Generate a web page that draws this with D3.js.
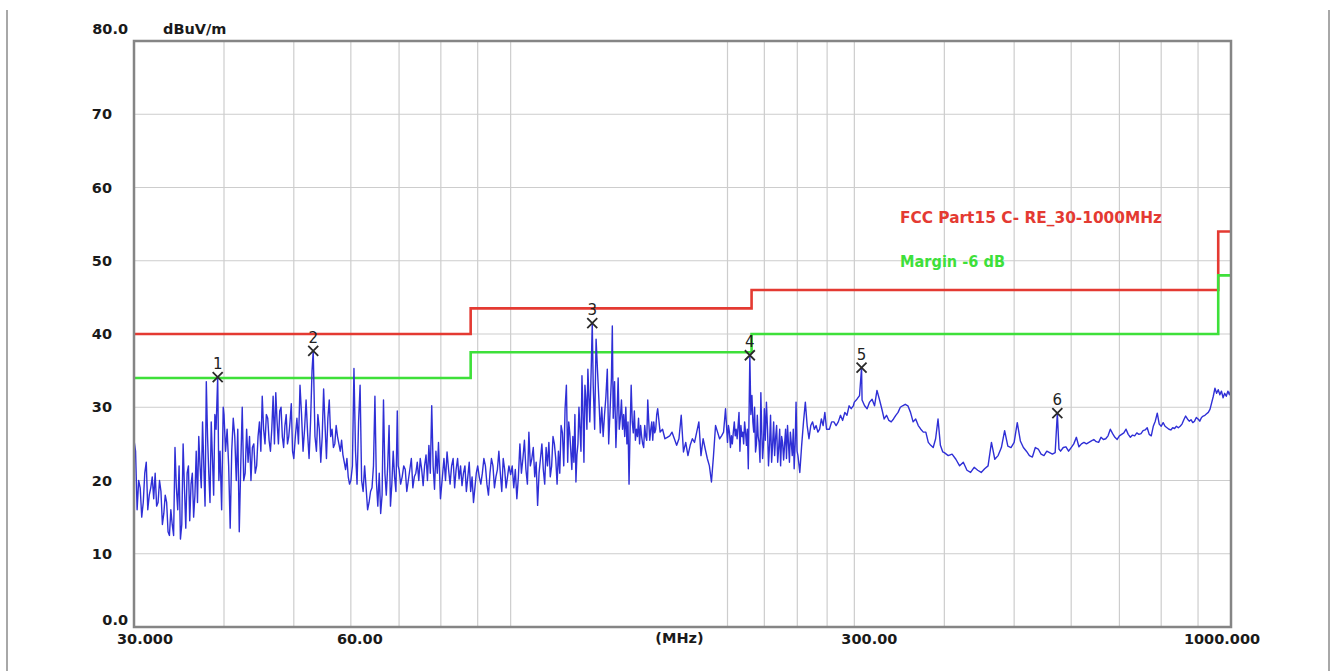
<!DOCTYPE html>
<html><head><meta charset="utf-8">
<script src="https://cdn.jsdelivr.net/npm/d3@7"></script>
<style>html,body{margin:0;padding:0;background:#fff;} svg{display:block}</style>
</head><body><svg id="chart" width="1333" height="671"></svg>
<script>
// ---- measured trace (MHz, dBuV/m) ----
const trace30to60 = [
[30.0,25.5],[30.3,16],[30.6,19],[30.9,17],[31.2,22.5],[31.5,18],[31.8,20.5],[32.1,21],[32.4,17],[32.7,18.5],[33.0,15.5],[33.3,17],[33.6,12.5],[33.9,14],[34.2,24.5],[34.5,16],[34.8,12],[35.1,25],[35.4,13.5],[35.7,22],[36.0,19.5],[36.3,15],[36.6,24],[36.9,26],[37.2,19],[37.5,22],[37.8,33.5],[38.1,21],[38.4,28],[38.7,18],[39.0,27],[39.2,34.1],[39.5,24],[39.9,30],
[40.0,29],[40.4,27],[40.8,13.5],[41.2,28.5],[41.6,20],[42.0,13],[42.4,30],[42.8,21],[43.2,22.5],[43.6,20],[44.0,25],[44.4,22],[44.8,28],[45.2,31.5],[45.6,25],[46.0,28.5],[46.4,24],[46.8,31.5],[47.2,32],[47.6,25],[48.0,30],[48.4,24.5],[48.8,29],[49.2,26],[49.6,30.5],
[50.0,23],[50.5,28.5],[51.0,33],[51.5,24],[52.0,31],[52.5,23],[53.0,35],[53.2,37.7],[53.5,26],[54.0,29],[54.5,22.5],[55.0,32.5],[55.5,23],[56.0,31],[56.5,27],[57.0,25],[57.5,26],[58.0,24],[58.5,23.5],[59.0,21.5],[59.5,20.5]
];
const trace30to60band = [
[30.15,24],[30.45,20],[30.75,15],[31.05,21],[31.35,16],[31.65,19],[31.95,17.5],[32.25,16.5],[32.55,20],[32.85,14],[33.15,18],[33.45,13],[33.75,16],[34.05,12.5],[34.35,19],[34.65,22],[34.95,14],[35.25,19],[35.55,21],[35.85,14.5],[36.15,21],[36.45,18],[36.75,17],[37.05,22],[37.35,28],[37.65,16.5],[37.95,26],[38.25,17],[38.55,23],[38.85,29],[39.35,20],[39.7,16],
[40.2,24],[40.6,22],[41.0,24],[41.4,26],[41.8,27],[42.2,22],[42.6,20],[43.0,27],[43.4,26],[43.8,24.5],[44.2,21],[44.6,26],[45.0,24],[45.4,27],[45.8,29],[46.2,25.5],[46.6,27],[47.0,25],[47.4,28],[47.8,29.5],[48.2,26],[48.6,27.5],[49.0,25],[49.4,28],[49.8,24],
[50.25,26],[50.75,25],[51.25,29],[51.75,27],[52.25,26.5],[52.75,28],[53.75,24],[54.25,27],[54.75,26],[55.25,27.5],[55.75,28.5],[56.25,26],[56.75,24.5],[57.25,27.5],[57.75,25],[58.25,25.5],[58.75,22.5],[59.25,23],[59.75,19.5]
];
const trace60to100 = [
[60.0,20],[60.6,35.3],[61.2,19.5],[61.8,33],[62.4,18.5],[63.0,19],[63.6,17],[64.2,19],[64.8,31.5],[65.4,16.5],[66.0,15.5],[66.6,31],[67.2,18],[67.8,27.5],[68.4,19.5],[69.0,20.5],[69.6,29.5],
[70.0,21.5],[70.7,20.5],[71.4,21.5],[72.1,20],[72.8,23],[73.5,20.5],[74.2,22.5],[74.9,23],[75.6,19.3],[76.3,23.5],[77.0,24.8],[77.7,30.2],[78.4,18.8],[79.1,21],[79.4,25.2],[79.9,17.5],
[80.8,23],[81.6,23.9],[82.4,19.5],[83.2,23],[84.0,21.5],[84.8,20.2],[85.6,19.3],[86.4,22],[87.2,20.5],[88.0,18.5],[88.8,17],[89.6,21],
[90.0,22],[90.9,19.5],[91.8,23],[92.7,19.5],[93.6,21],[94.5,22],[95.4,20.5],[96.3,24],[97.2,18.5],[98.1,21.5],[99.0,20.5],[99.9,21]
];
const trace60to100band = [
[60.3,22],[60.9,24],[61.5,28],[62.1,20],[62.7,22],[63.3,16],[63.9,18.5],[64.5,22],[65.1,20],[65.7,21],[66.3,18],[66.9,21],[67.5,22],[68.1,16.5],[68.7,24],[69.3,18.5],[69.8,22],
[70.35,19.5],[71.05,22],[71.75,18.5],[72.45,21.5],[73.15,19],[73.85,21],[74.55,20],[75.25,21.5],[75.95,22],[76.65,20],[77.35,21],[78.05,22],[78.75,24],
[80.4,20.5],[81.2,20],[82.0,21.5],[82.8,22],[83.6,19],[84.4,23],[85.2,22],[86.0,21],[86.8,18.5],[87.6,22.5],[88.4,20.5],[89.2,19],
[90.45,20.5],[91.35,21],[92.25,22],[93.15,18],[94.05,23],[94.95,19],[95.85,21.5],[96.75,21],[97.65,23],[98.55,19],[99.45,22]
];
const trace100to200 = [
[100,20.8],[101,19],[102,17.5],[103,25],[104,23],[105,21.5],[106,26.6],[107,23],[108,20.5],[109,16.6],[110,23],[111,21.5],[112,24.5],[113,25.2],[114,22],[115,25],[116,19.5],[117,21],[118,26.5],[119,29.8],[119.5,33],
[120.0,22.5],[120.8,26.5],[121.6,21.5],[122.4,22.5],[123.2,19.8],[124.0,25],[124.8,27],[125.6,34.3],[126.4,22.5],[127.2,31.1],[128.0,35.2],[128.8,28],[129.4,35.7],[129.8,41.5],[130.2,33],[130.8,27],[131.4,39.3],[132.0,35],[132.6,31],[133.2,26.5],[133.8,30],[134.4,26],[135.0,29],[135.6,31.5],[136.2,35.2],[136.8,25],[137.4,29.5],[138.0,34],[138.4,41.1],[138.8,28.5],[139.4,33.5],
[140,24.5],[141,34],[142,28.5],[143,27],[144,26],[145,25],[146,19.5],[147,33],[148,26.5],[149,25.5],[150,26],[151,25],[152,26],[153,24.5],[154,26],[155,31],[156,25.5],[157,28],[158,28],[159,27],
[160,29.8],[161.25,26.6],[162.5,27],[163.75,25.7],[165,25.9],[166.25,26.1],[167.5,26.6],[168.75,25.7],[170,24.8],[171.25,25.7],[172.5,28.9],[173.75,23.9],[175,25.2],[176.25,23.4],[177.5,24.8],[178.75,25.7],
[180,25.2],[181.25,26.6],[182.5,28],[183.75,23.4],[185,25.7],[186.25,24.3],[187.5,23],[188.75,22],[190,19.8],[191.25,23.4],[192.5,27.5],[193.75,26.6],[195,25.7],[196.25,26.1],[197.5,26.6],[198.75,29.8]
];
const trace100to200band = [
[100.5,22],[101.5,21.5],[102.5,20.5],[103.5,21],[104.5,25.5],[105.5,19.5],[106.5,22],[107.5,24.5],[108.5,22.5],[109.5,21],[110.5,25],[111.5,19.5],[112.5,22],[113.5,20.5],[114.5,26],[115.5,23],[116.5,24],[117.5,27.5],[118.5,22],
[120.4,28],[121.2,24],[122.0,26],[122.8,29],[123.6,23.5],[124.4,30],[125.2,24],[126.0,29.5],[126.8,33],[127.6,27],
[140.5,29],[141.5,27],[142.5,31],[143.5,29],[144.5,30],[145.5,28],[146.5,27],[147.5,28],[148.5,29.5],[149.5,27],[150.5,28.5],[151.5,27.5],[152.5,25],[153.5,27.5],[154.5,25.5],[155.5,28],[156.5,27],[157.5,25.5],[158.5,26.5],[159.5,29]
];
const trace200to400 = [
[200,25.2],[201.25,26.6],[202.5,26.1],[203.75,26.6],[205,26.1],[206.25,25.7],[207.5,29.3],[208.75,27.5],[210,26.6],[211.25,28],[212.5,24.8],[213.75,21.6],[214.5,32.5],[214.8,37.1],[216.25,31.6],[217.5,26.6],[218.75,23.9],[220,28.9],[221.25,25.2],[222.5,32],[223.75,23],[225,29.8],
[226.5,30.7],[228,22],[229.5,28.9],[231,24.8],[232.5,23.4],[234,27.5],[235.5,24.3],[237,22],[238.5,25.2],[240,24.8],[241.5,23],[243,25.2],[244.5,26.6],[246,23.4],[247.5,21.6],[249,30.7],
[250.5,23.4],[252,21.1],[253.5,24.8],[255,28],[256.5,30.7],[258,27.5],[259.5,25.7],[261,27.5],[262.5,28],[264,27],[265.5,27.5],[267,26.6],[268.5,27],[270,28.4],[271.5,27.5],[273,29.3],[274.5,27],
[277,27],[279,28],[281,28],[283,27.5],[285,28],[287,28.9],[289,28.2],[291,29.3],[293,28.9],[295,30.2],[297,29.8],[299,30.2],
[300,30.7],[302.5,31.1],[305,31.6],[307,35.4],[307.5,31],[310,30.2],[312.5,29.8],[315,30.7],[317.5,31.1],[320,30.2],[322.5,32.3],[325,31.1],[327.5,29.8],[330,28.4],[332.5,28.9],[335,28.2],[337.5,28],[340,28.4],[342.5,28.9],[345,29.3],[347.5,30],[350,30.2],
[353,30.4],[356,30.2],[359,29.3],[362,28],[365,28.4],[368,27.5],[371,27],[374,26.6],[377,26.6],[380,25.2],[383,24.8],[386,24.5],[389,25.7],[392,28.4],[395,24.8],[398,23.9]
];
const trace200to250band = [
[200.6,27.5],[201.9,24.5],[203.1,25],[204.4,28],[205.6,27],[206.9,27.5],[208.1,24],[209.4,26],[210.6,25],[211.9,26.5],[213.1,27],[215.5,29],[216.9,28],[218.1,30],[219.4,25],[220.6,26],[221.9,22.5],[223.1,27],[224.4,25],
[225.7,25.5],[227.3,27],[228.8,25],[230.3,22.5],[231.8,28],[233.3,26],[234.8,22.5],[236.3,27],[237.8,26],[239.3,22.8],[240.8,27],[242.3,27.5],[243.8,22.5],[245.3,25],[246.8,27],[248.3,25],[249.8,24]
];
const trace400to1000 = [
[400,23.8],[405,23.4],[410,23.6],[415,22.9],[420,22],[425,22.5],[430,21.4],[435,21.1],[440,21.8],[445,21.4],[450,21.1],[455,21.6],[460,22],[465,25.2],[470,22.9],[475,23.4],[480,24.5],[485,26.8],[490,24.7],[495,24.5],
[500,25.2],[505,27.9],[510,25.4],[515,24.5],[520,24],[525,23.4],[530,23.2],[535,24.5],[540,24.3],[545,23.6],[550,23.4],[555,24],[560,23.8],[565,23.6],[570,23.8],[574,29.2],[577,24.3],[580,24],[585,24.5],[590,24.6],[595,24],
[600,24.5],[605,25],[610,25.9],[615,24.6],[620,25],[625,25.2],[630,25],[635,25.2],[640,25.4],[645,25.6],[650,25.3],[655,25.2],[660,25.9],[665,25.6],[670,25.7],[675,26.1],[680,27],[685,26.4],[690,25.9],[695,25.6],
[700,26.1],[705,26.3],[710,26.5],[715,27],[720,26.3],[725,25.9],[730,26.2],[735,26.1],[740,26.5],[745,26.3],[750,26.4],[755,26.8],[760,26.9],[765,27.2],[770,26.3],[775,26.1],[780,27.4],[785,28.1],[790,29.2],[795,27.7],
[800,27.4],[805,27.9],[810,27.4],[815,27.2],[820,27],[825,26.9],[830,27.2],[835,27.1],[840,27.4],[845,27.2],[850,27.4],[855,27.7],[860,28.3],[865,28.8],[870,28.4],[875,28.1],[880,28.3],[885,27.9],[890,28.1],[895,28.6],
[900,28.4],[905,28.1],[910,28.6],[915,28.8],[920,28.9],[925,29.1],[930,29.3],[935,29.7],[940,30.6],[945,31.5],[950,32.6],[955,31.9],[960,32.4],[965,31.7],[970,32.2],[975,31.3],[980,31.9],[985,31.5],[990,32.2],[995,31.7],[1000,32.4]
];

// ---- limit lines ----
const limitFCC    = [[30,40],[88,43.5],[216,46],[960,54],[1000,54]];
const limitMargin = [[30,34],[88,37.5],[216,40],[960,48],[1000,48]];

// ---- markers ----
const markerIds    = [1, 2, 3, 4, 5, 6];
const markerFreqs  = [39.2, 53.2, 129.8, 214.8, 307, 574];
const markerLevels = [34.1, 37.7, 41.5, 37.1, 35.4, 29.2];

// ---- axes ----
const yTickValues = [0, 10, 20, 30, 40, 50, 60, 70, 80];
const yTickLabels = ["0.0", "10", "20", "30", "40", "50", "60", "70", "80.0"];
const xGridValues = [40, 50, 60, 70, 80, 90, 100, 200, 225, 250, 275, 300, 400, 500, 600, 700, 800, 900];
const xTickValues = [30, 60, 300, 1000];
const xTickLabels = ["30.000", "60.00", "300.00", "1000.000"];
const yUnit = "dBuV/m";
const xUnit = "(MHz)";
const legendLabels = ["FCC Part15 C- RE_30-1000MHz", "Margin -6 dB"];

// ---- drawing ----
const svg = d3.select("#chart");
const W = 1333, H = 671;
const L = 134, R = 1231, T = 41, B = 627;
const x = d3.scaleLog().domain([30, 1000]).range([L, R]);
const y = d3.scaleLinear().domain([0, 80]).range([B, T]);
const FONT = "'DejaVu Sans', Verdana, sans-serif";

svg.append("rect").attr("width", W).attr("height", H).attr("fill", "#fff");
svg.append("line").attr("x1", 7).attr("x2", 7).attr("y1", 10).attr("y2", H).attr("stroke", "#a8a8a8").attr("stroke-width", 2);
svg.append("line").attr("x1", 1329).attr("x2", 1329).attr("y1", 10).attr("y2", H).attr("stroke", "#a8a8a8").attr("stroke-width", 2);

// grid
const g = svg.append("g");
g.selectAll("line.v").data(xGridValues).join("line")
  .attr("x1", d => x(d)).attr("x2", d => x(d)).attr("y1", T).attr("y2", B)
  .attr("stroke", "#cdcdcd").attr("stroke-width", 1.2);
g.selectAll("line.h").data(yTickValues.filter(v => v > 0 && v < 80)).join("line")
  .attr("x1", L).attr("x2", R).attr("y1", d => y(d)).attr("y2", d => y(d))
  .attr("stroke", "#cdcdcd").attr("stroke-width", 1.2);

// limit lines
const stepLine = d3.line().x(d => x(d[0])).y(d => y(d[1])).curve(d3.curveStepAfter);
svg.append("path").attr("d", stepLine(limitFCC)).attr("fill", "none").attr("stroke", "#e43a32").attr("stroke-width", 2.6);
svg.append("path").attr("d", stepLine(limitMargin)).attr("fill", "none").attr("stroke", "#3ee03a").attr("stroke-width", 2.6);

// trace
const trace = [].concat(trace30to60, trace30to60band, trace60to100, trace60to100band,
  trace100to200, trace100to200band, trace200to400, trace200to250band, trace400to1000)
  .sort((a, b) => a[0] - b[0]);
const line = d3.line().x(d => x(d[0])).y(d => y(d[1]));
svg.append("path").attr("d", line(trace)).attr("fill", "none")
  .attr("stroke", "#2f2fd6").attr("stroke-width", 1.4).attr("stroke-linejoin", "round");

// markers
const markers = markerIds.map((id, i) => ({id, f: markerFreqs[i], v: markerLevels[i]}));
const mg = svg.append("g").selectAll("g").data(markers).join("g")
  .attr("transform", d => `translate(${x(d.f)},${y(d.v)})`);
mg.append("path").attr("d", "M-5,-5L5,5M-5,5L5,-5").attr("stroke", "#2a2a2a").attr("stroke-width", 1.8);
mg.append("text").text(d => d.id).attr("y", -8).attr("text-anchor", "middle")
  .attr("font-family", FONT).attr("font-size", 15).attr("fill", "#222");

// frame
svg.append("rect").attr("x", L).attr("y", T).attr("width", R - L).attr("height", B - T)
  .attr("fill", "none").attr("stroke", "#858585").attr("stroke-width", 2.5);

// y tick labels
svg.append("g").selectAll("text").data(yTickValues).join("text")
  .text((d, i) => yTickLabels[i])
  .attr("x", d => (d === 0 || d === 80) ? 128 : 112)
  .attr("y", d => d === 80 ? y(d) - 12 : d === 0 ? y(d) - 7 : y(d))
  .attr("dy", "0.36em").attr("text-anchor", "end")
  .attr("font-family", FONT).attr("font-weight", "bold").attr("font-size", 14.5).attr("fill", "#1a1a1a");
svg.append("text").text(yUnit).attr("x", 163).attr("y", y(80) - 12).attr("dy", "0.36em")
  .attr("font-family", FONT).attr("font-weight", "bold").attr("font-size", 14.5).attr("fill", "#1a1a1a");

// x tick labels
const xLabelShift = {30: 11, 60: 9, 300: 15, 1000: -9};
svg.append("g").selectAll("text").data(xTickValues).join("text")
  .text((d, i) => xTickLabels[i])
  .attr("x", d => x(d) + xLabelShift[d]).attr("y", B + 12).attr("dy", "0.36em")
  .attr("text-anchor", "middle")
  .attr("font-family", FONT).attr("font-weight", "bold").attr("font-size", 14.5).attr("fill", "#1a1a1a");
svg.append("text").text(xUnit).attr("x", (L + R) / 2 - 3).attr("y", B + 11).attr("dy", "0.36em")
  .attr("text-anchor", "middle")
  .attr("font-family", FONT).attr("font-weight", "bold").attr("font-size", 14.5).attr("fill", "#1a1a1a");

// legend
svg.append("text").text(legendLabels[0]).attr("x", 900).attr("y", 218).attr("dy", "0.36em")
  .attr("textLength", 262).attr("lengthAdjust", "spacingAndGlyphs")
  .attr("font-family", FONT).attr("font-weight", "bold").attr("font-size", 15).attr("fill", "#e43a32");
svg.append("text").text(legendLabels[1]).attr("x", 900).attr("y", 262).attr("dy", "0.36em")
  .attr("textLength", 105).attr("lengthAdjust", "spacingAndGlyphs")
  .attr("font-family", FONT).attr("font-weight", "bold").attr("font-size", 15).attr("fill", "#3ee03a");
</script></body></html>
